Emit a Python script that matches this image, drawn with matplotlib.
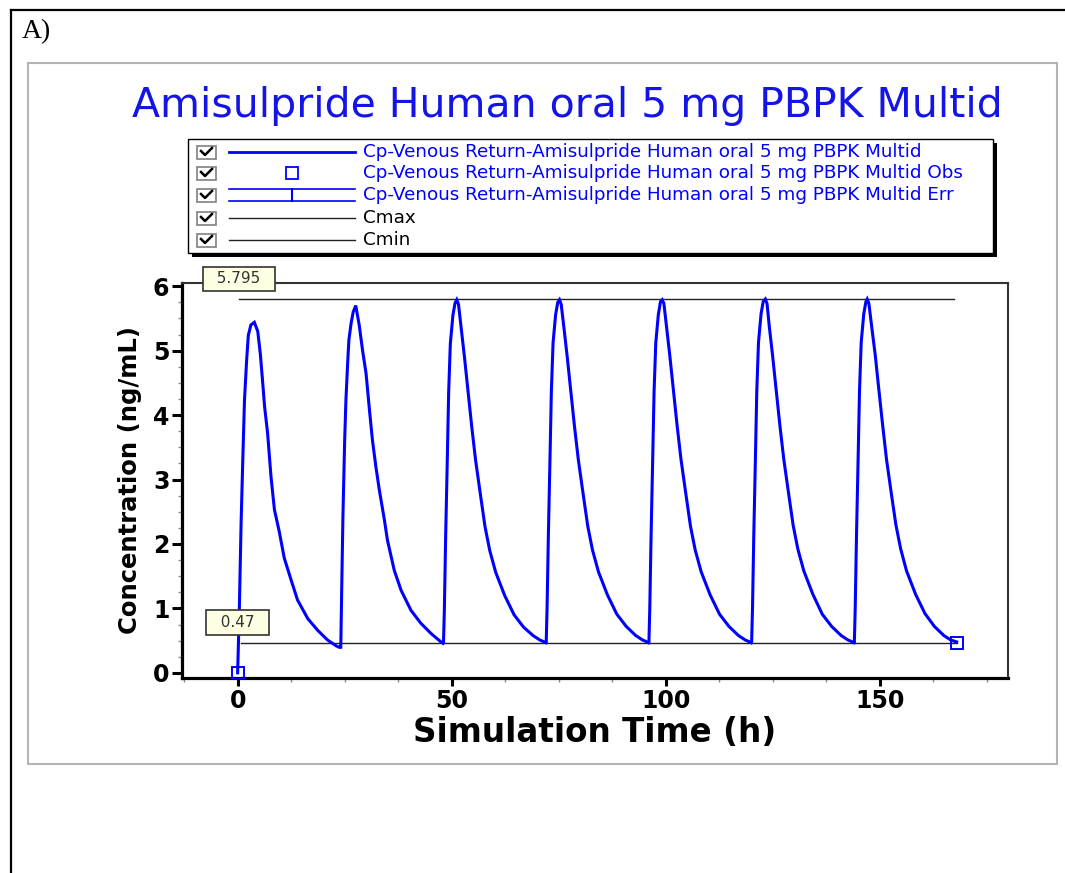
import matplotlib
matplotlib.use('Agg')
import matplotlib.pyplot as plt
from matplotlib.patches import Rectangle
from matplotlib.ticker import MultipleLocator

# simulated Cp (ng/mL) vs time (h), one list per 24 h dosing interval
t_dose1 = [0, 0.4, 0.8, 1.2, 1.6, 2.1, 2.5, 3.1, 3.9, 4.7, 5.3, 5.8, 6.3, 7.0, 7.8,
           8.6, 9.7, 10.9, 12.5, 14.0, 16.4, 18.7, 21.0, 23.0, 23.6, 24.0]
c_dose1 = [0, 1.0, 2.3, 3.3, 4.23, 4.85, 5.24, 5.40, 5.44, 5.30, 4.95, 4.55, 4.13, 3.72, 3.04,
           2.53, 2.20, 1.78, 1.44, 1.13, 0.84, 0.66, 0.51, 0.42, 0.40, 0.40]

t_dose2 = [24.0, 24.1, 24.3, 24.6, 25.0, 25.3, 25.7, 26.0, 26.5, 27.0, 27.6, 28.4, 29.2, 30.0,
           30.8, 31.5, 32.3, 33.1, 34.3, 35.0, 36.6, 38.2, 40.5, 42.8, 45.2, 47.5, 48.0]
c_dose2 = [0.40, 0.40, 1.23, 2.42, 3.59, 4.23, 4.80, 5.17, 5.42, 5.60, 5.70, 5.40, 5.00, 4.65,
           4.08, 3.61, 3.20, 2.84, 2.37, 2.06, 1.59, 1.28, 0.97, 0.77, 0.61, 0.48, 0.46]

t_dose3 = [48.0, 48.1, 48.3, 48.6, 49.0, 49.3, 49.7, 50.3, 50.8, 51.2, 51.6, 52.2, 53.0, 53.8,
           54.7, 55.6, 56.7, 57.8, 58.9, 60.3, 62.4, 64.6, 66.8, 69.0, 70.6, 72.0]
c_dose3 = [0.46, 0.47, 0.97, 2.10, 3.35, 4.34, 5.11, 5.55, 5.74, 5.79, 5.72, 5.37, 4.90, 4.39,
           3.82, 3.30, 2.78, 2.27, 1.90, 1.56, 1.20, 0.90, 0.71, 0.58, 0.51, 0.47]

t_dose4 = [72.0, 72.1, 72.3, 72.6, 73.0, 73.3, 73.7, 74.3, 74.8, 75.2, 75.6, 76.2, 77.0, 77.8,
           78.7, 79.6, 80.7, 81.8, 82.9, 84.3, 86.4, 88.6, 90.8, 93.0, 94.6, 96.0]
c_dose4 = [0.47, 0.48, 1.00, 2.12, 3.38, 4.36, 5.12, 5.56, 5.75, 5.79, 5.72, 5.38, 4.91, 4.40,
           3.83, 3.31, 2.79, 2.28, 1.91, 1.57, 1.21, 0.91, 0.72, 0.58, 0.51, 0.47]

t_dose5 = [96.0, 96.1, 96.3, 96.6, 97.0, 97.3, 97.7, 98.3, 98.8, 99.2, 99.6, 100.2, 101.0, 101.8,
           102.7, 103.6, 104.7, 105.8, 106.9, 108.3, 110.4, 112.6, 114.8, 117.0, 118.6, 120.0]
c_dose5 = [0.47, 0.48, 1.00, 2.12, 3.38, 4.36, 5.12, 5.56, 5.76, 5.79, 5.73, 5.38, 4.91, 4.40,
           3.83, 3.31, 2.79, 2.28, 1.91, 1.57, 1.21, 0.91, 0.72, 0.58, 0.51, 0.47]

t_dose6 = [120.0, 120.1, 120.3, 120.6, 121.0, 121.3, 121.7, 122.3, 122.8, 123.3, 123.7, 124.2, 125.0,
           125.8, 126.7, 127.6, 128.7, 129.8, 130.9, 132.3, 134.4, 136.6, 138.8, 141.0, 142.6, 144.0]
c_dose6 = [0.47, 0.48, 1.00, 2.13, 3.39, 4.37, 5.13, 5.57, 5.76, 5.80, 5.73, 5.39, 4.92, 4.41,
           3.84, 3.32, 2.80, 2.29, 1.92, 1.58, 1.22, 0.91, 0.72, 0.58, 0.51, 0.47]

t_dose7 = [144.0, 144.1, 144.3, 144.6, 145.0, 145.3, 145.7, 146.3, 146.8, 147.1, 147.5, 148.1, 149.0,
           149.8, 150.7, 151.6, 152.7, 153.8, 154.9, 156.3, 158.4, 160.6, 162.8, 165.0, 166.6, 168.0]
c_dose7 = [0.47, 0.48, 1.00, 2.13, 3.39, 4.37, 5.13, 5.57, 5.76, 5.80, 5.73, 5.40, 4.92, 4.41,
           3.85, 3.32, 2.80, 2.30, 1.93, 1.58, 1.22, 0.92, 0.72, 0.58, 0.51, 0.48]

dose_t = [t_dose1, t_dose2, t_dose3, t_dose4, t_dose5, t_dose6, t_dose7]
dose_c = [c_dose1, c_dose2, c_dose3, c_dose4, c_dose5, c_dose6, c_dose7]

obs_t = [0, 168]
obs_c = [0, 0.47]

cmax = 5.795
cmin = 0.47
cmax_t = [0.3, 167.3]
cmin_t = [0.7, 168]

title = 'Amisulpride Human oral 5 mg PBPK Multid'
series_name = 'Cp-Venous Return-Amisulpride Human oral 5 mg PBPK Multid'
legend_labels = [series_name, series_name + ' Obs', series_name + ' Err', 'Cmax', 'Cmin']
x_ticks = [0, 50, 100, 150]
y_ticks = [0, 1, 2, 3, 4, 5, 6]

BLUE = '#0000ff'
TITLE_BLUE = '#1414e6'

fig = plt.figure(figsize=(10.65, 8.73), dpi=100)

# page decoration in pixel coordinates
bg = fig.add_axes([0, 0, 1, 1], zorder=0)
bg.set_xlim(0, 1065)
bg.set_ylim(873, 0)
bg.axis('off')
bg.plot([11, 11], [10, 873], color='black', lw=1.6)
bg.plot([11, 1065], [10, 10], color='black', lw=1.6)
bg.add_patch(Rectangle((28, 63), 1029, 701, fc='white', ec='#b4b4b4', lw=1.5))
bg.text(22, 32, 'A)', family='Liberation Serif', fontsize=20, va='center', ha='left')
bg.text(567, 106, title, color=TITLE_BLUE, fontsize=29.5, ha='center', va='center')

# legend box
bg.add_patch(Rectangle((192, 143), 805, 114, fc='black', ec='none'))
bg.add_patch(Rectangle((188, 139), 805, 114, fc='white', ec='black', lw=1))
rows = [152, 173, 195, 218, 240]
colors = [BLUE, BLUE, BLUE, 'black', 'black']
for i, y in enumerate(rows):
    bg.add_patch(Rectangle((197, y - 6.5), 19, 13, fc='white', ec='#808080', lw=1.2))
    bg.plot([201, 205, 212], [y - 1, y + 3, y - 4], color='black', lw=1.8)
    if i == 0:
        bg.plot([229, 355], [y, y], color=BLUE, lw=2)
    elif i == 1:
        bg.plot([292], [y], marker='s', ms=8, mfc='none', mec=BLUE, mew=1.3)
    elif i == 2:
        bg.plot([229, 355], [y - 6, y - 6], color=BLUE, lw=1.2)
        bg.plot([229, 355], [y + 6, y + 6], color=BLUE, lw=1.2)
        bg.plot([292, 292], [y - 6, y + 6], color=BLUE, lw=1.5)
    else:
        bg.plot([229, 355], [y, y], color='#222222', lw=1)
    bg.text(363, y, legend_labels[i], color=colors[i], fontsize=13.2, va='center', ha='left')

# main plot
ax = fig.add_axes([182 / 1065, 195 / 873, 826 / 1065, 395 / 873], zorder=1)
for t, c in zip(dose_t, dose_c):
    ax.plot(t, c, color=BLUE, lw=2.2, solid_joinstyle='miter', zorder=3)
ax.plot(cmax_t, [cmax, cmax], color='#222222', lw=1, zorder=2)
ax.plot(cmin_t, [cmin, cmin], color='#222222', lw=1, zorder=2)
ax.plot(obs_t, obs_c, ls='none', marker='s', ms=9, mfc='none', mec=BLUE, mew=1.4, zorder=4)

box = dict(boxstyle='square,pad=0.3', fc='#ffffe4', ec='#333333', lw=1.2)
ax.annotate('  %.3f  ' % cmax, xy=(cmax_t[0], cmax), xytext=(0, 15), textcoords='offset points',
            ha='center', va='center', fontsize=11, color='#333333', bbox=box,
            annotation_clip=False, zorder=5)
ax.annotate('  %.2f  ' % cmin, xy=(0, cmin), xytext=(0, 14.5), textcoords='offset points',
            ha='center', va='center', fontsize=11, color='#333333', bbox=box,
            annotation_clip=False, zorder=5)

ax.set_xlim(-13, 180)
ax.set_ylim(-0.08, 6.05)
ax.set_xticks(x_ticks)
ax.set_yticks(y_ticks)
ax.xaxis.set_minor_locator(MultipleLocator(12.5))
ax.yaxis.set_minor_locator(MultipleLocator(0.25))
ax.tick_params(which='major', direction='out', width=2.2, color='black', labelsize=17, pad=2)
ax.tick_params(axis='x', which='major', length=6)
ax.tick_params(axis='y', which='major', length=7)
ax.tick_params(which='minor', direction='out', length=3, width=1, color='#8c8c8c')
for lab in ax.get_xticklabels() + ax.get_yticklabels():
    lab.set_fontweight('bold')

for s in ['left', 'bottom']:
    ax.spines[s].set_linewidth(2.3)
    ax.spines[s].set_color('black')
for s in ['top', 'right']:
    ax.spines[s].set_linewidth(1.5)
    ax.spines[s].set_color('#333333')

ax.set_xlabel('Simulation Time (h)', fontsize=23.5, fontweight='bold', labelpad=2)
ax.set_ylabel('Concentration (ng/mL)', fontsize=17.5, fontweight='bold', labelpad=8)

fig.savefig('out.png', dpi=100)
